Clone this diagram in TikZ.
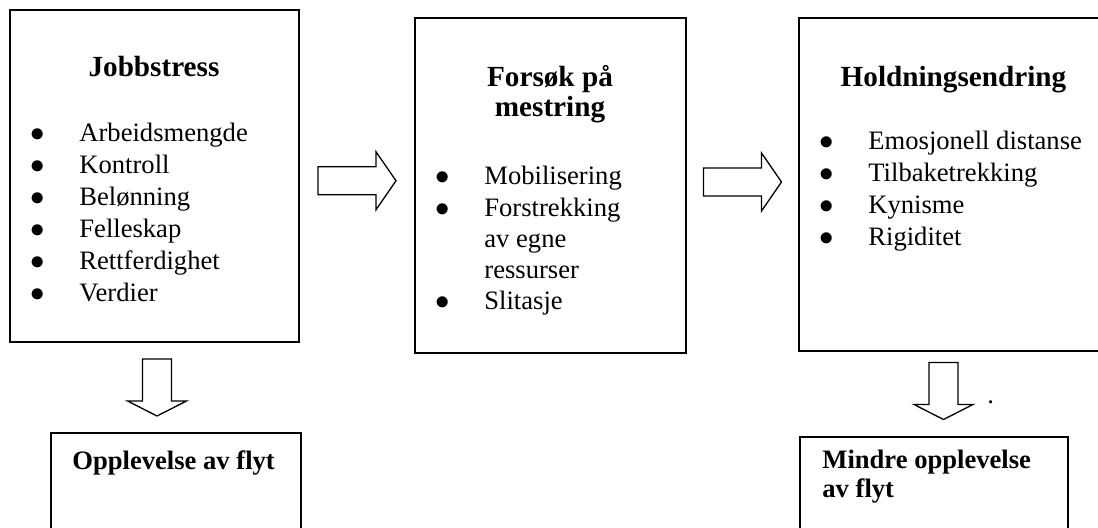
\documentclass[tikz,border=0pt]{standalone}
\usepackage{fontspec}
\setmainfont{Liberation Serif}
\usetikzlibrary{fit}
\usetikzlibrary{calc}
\newcommand{\bl}{\makebox[24.3pt][l]{$\bullet$}}
\tikzset{
	box/.style={draw=black, line width=1pt, inner sep=0pt},
	title/.style={font=\fontsize{14.6}{15}\selectfont\bfseries, inner sep=0pt, anchor=base},
	item/.style={font=\fontsize{13.3}{16}\selectfont, inner sep=0pt, anchor=base west},
	pics/rightblock/.style={
		code = {
			\draw[line width=0.65pt, fill=white] (-39,-14) -- (19,-14) -- (19,-29) -- (39,0) -- (19,29) -- (19,14) -- (-39,14) -- cycle;
		}
	},
	pics/downblock/.style={
		code = {
			\draw[line width=0.65pt, fill=white] (-14.5,-28.5) -- (14.5,-28.5) -- (14.5,13.5) -- (29.5,13.5) -- (0,28.5) -- (-29.5,13.5) -- (-14.5,13.5) -- cycle;
		}
	}
}

\begin{document}
\begin{tikzpicture}[x=0.5pt, y=-0.5pt]

	\useasboundingbox (0,0) rectangle (1098,528);

	% boxes
	\node[box, fit={(10,10) (299,342)}] (jobb) {};
	\node[box, fit={(415,18) (686,353)}] (forsok) {};
	\node[box, fit={(799,18) (1102,351)}] (holdning) {};
	\node[box, fit={(51,433) (301,540)}] (flyt) {};
	\node[box, fit={(800,437) (1068,540)}] (mindre) {};

	% jobbstress
	\node[title] (jobbtitle) at (154,77) {Jobbstress};
	\node[item] (j1) at (30.4,142) {\bl Arbeidsmengde};
	\node[item] (j2) at (30.4,174) {\bl Kontroll};
	\node[item] (j3) at (30.4,206) {\bl Belønning};
	\node[item] (j4) at (30.4,238) {\bl Felleskap};
	\node[item] (j5) at (30.4,270) {\bl Rettferdighet};
	\node[item] (j6) at (30.4,302) {\bl Verdier};

	% mestring
	\node[title] (forsoktitle) at (550,87) {Forsøk på};
	\node[title] (forsoktitleb) at (550,117) {mestring};
	\node[item] (f1) at (435.4,185) {\bl Mobilisering};
	\node[item] (f2) at (435.4,217) {\bl Forstrekking};
	\node[item] (f3) at (484,248) {av egne};
	\node[item] (f4) at (484,279) {ressurser};
	\node[item] (f5) at (435.4,310) {\bl Slitasje};

	% holdning
	\node[title] (holdningtitle) at (953.5,87) {Holdningsendring};
	\node[item] (h1) at (819.4,150) {\bl Emosjonell distanse};
	\node[item] (h2) at (819.4,182) {\bl Tilbaketrekking};
	\node[item] (h3) at (819.4,214) {\bl Kynisme};
	\node[item] (h4) at (819.4,246) {\bl Rigiditet};

	% flyt
	\node[title, anchor=base west, font=\fontsize{13.3}{15}\selectfont\bfseries] (flyttitle) at (72,470) {Opplevelse av flyt};
	\node[title, anchor=base west, font=\fontsize{13.3}{15}\selectfont\bfseries] (mindretitle) at (822,469) {Mindre opplevelse};
	\node[title, anchor=base west, font=\fontsize{13.3}{15}\selectfont\bfseries] (mindretitleb) at (822,498) {av flyt};
	\node[item] (punkt) at (987,404) {.};

	% arrows
	\pic at ($(jobb.east)!0.5!(forsok.west)$) {rightblock};
	\pic at ($(forsok.east)!0.5!(holdning.west)+(0,-3)$) {rightblock};
	\pic at ($(jobb.south)!0.5!(jobb.south |- flyt.north)+(2.5,0)$) {downblock};
	\pic at ($(holdning.south)!0.5!(holdning.south |- mindre.north)+(-7,-3)$) {downblock};

\end{tikzpicture}
\end{document}
